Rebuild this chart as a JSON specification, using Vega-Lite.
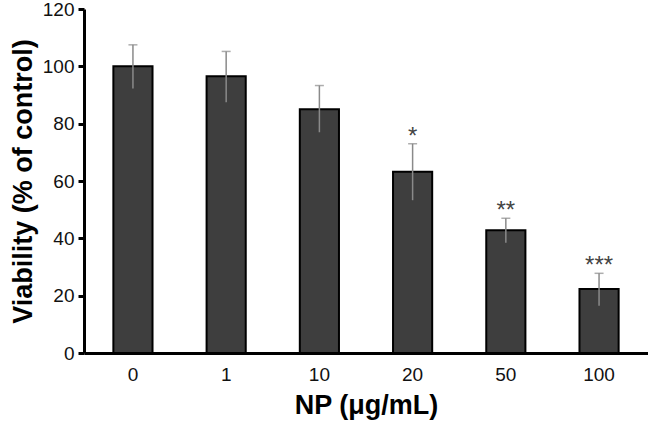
{
  "$schema": "https://vega.github.io/schema/vega-lite/v6.json",
  "width": 564,
  "height": 344,
  "autosize": {"type": "none"},
  "padding": {"left": 84, "top": 9, "right": 0, "bottom": 71},
  "background": "white",
  "config": {"view": {"stroke": null}, "font": "Liberation Sans"},
  "data": {"values": [
    {"np": "0", "mean": 100, "lo": 92.3, "hi": 107.5, "sig": ""},
    {"np": "1", "mean": 96.5, "lo": 87.5, "hi": 105.2, "sig": ""},
    {"np": "10", "mean": 85, "lo": 77, "hi": 93.3, "sig": ""},
    {"np": "20", "mean": 63.2, "lo": 53.3, "hi": 73, "sig": "*"},
    {"np": "50", "mean": 42.8, "lo": 38.5, "hi": 47, "sig": "**"},
    {"np": "100", "mean": 22.3, "lo": 16.5, "hi": 27.8, "sig": "***"}
  ]},
  "encoding": {
    "x": {"field": "np", "type": "nominal", "sort": null,
      "scale": {"paddingInner": 0.58, "paddingOuter": 0.315},
      "axis": {"title": "NP (μg/mL)", "labelAngle": 0, "labelFontSize": 19, "labelColor": "#111",
        "labelPadding": 12, "ticks": false, "domainWidth": 3, "domainColor": "black",
        "titleFontSize": 27, "titleFontWeight": "bold", "titleColor": "black", "titlePadding": 8}}
  },
  "layer": [
    {
      "mark": {"type": "bar", "color": "#3e3e3e", "stroke": "black", "strokeWidth": 2},
      "encoding": {
        "y": {"field": "mean", "type": "quantitative",
          "scale": {"domain": [0, 120]},
          "axis": {"title": "Viability (% of control)", "values": [0,10,20,30,40,50,60,70,80,90,100,110,120],
            "labelExpr": "datum.value % 20 == 0 ? datum.label : ''",
            "labelFontSize": 19, "labelColor": "#111", "labelPadding": 4,
            "tickSize": 6, "tickWidth": 3, "tickColor": "black", "domainWidth": 3, "domainColor": "black", "grid": false,
            "titleFontSize": 27, "titleFontWeight": "bold", "titleColor": "black", "titlePadding": 5}}
      }
    },
    {
      "mark": {"type": "rule", "color": "#8a8a8a", "strokeWidth": 1.5},
      "encoding": {
        "y": {"field": "lo", "type": "quantitative"},
        "y2": {"field": "hi"}
      }
    },
    {
      "mark": {"type": "tick", "color": "#8a8a8a", "thickness": 1.5, "size": 9},
      "encoding": {
        "y": {"field": "hi", "type": "quantitative"}
      }
    },
    {
      "mark": {"type": "text", "fontSize": 24, "color": "#444", "baseline": "middle", "dy": -7, "font": "Liberation Sans"},
      "encoding": {
        "y": {"field": "hi", "type": "quantitative"},
        "text": {"field": "sig"}
      }
    }
  ]
}
